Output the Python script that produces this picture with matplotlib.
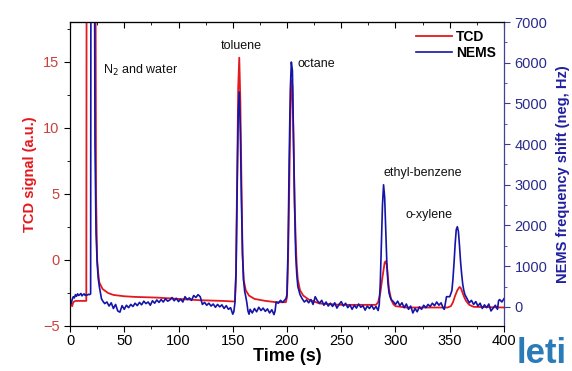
import numpy as np
import matplotlib.pyplot as plt
from matplotlib.ticker import MultipleLocator

plt.rcParams['font.family'] = ['Liberation Sans', 'DejaVu Sans']

# TCD trace (left axis, a.u.)
tcd_t = [0, 1, 2, 3, 5, 10, 15, 15.5, 23, 24, 25, 26, 27, 30, 35, 40, 50, 60, 80, 100,
         120, 140, 152, 153, 154, 155, 156, 157, 158, 159, 160, 162, 165, 170, 180, 190,
         199, 200, 201, 202, 203, 204, 205, 206, 207, 208, 209, 210, 212, 215, 220, 230,
         250, 282, 284, 286, 288, 290, 291, 292, 293, 294, 296, 298, 300, 310,
         348, 351, 353, 355, 357, 359, 360, 361, 363, 365, 368, 372, 400]
tcd_v = [-3.0, -3.4, -3.5, -3.2, -3.1, -3.1, -3.1, 40, 40, 5, 0, -1.0, -1.7, -2.2, -2.5, -2.65, -2.75, -2.8, -2.85, -2.95,
         -3.05, -3.1, -3.15, -1, 6, 13, 15.3, 12, 6, 0.5, -1.5, -2.3, -2.7, -2.95, -3.1, -3.2,
         -3.2, -2.8, 0, 5, 10.5, 13.6, 13.2, 9, 4.5, 1.5, -0.5, -1.5, -2.3, -2.7, -3.0, -3.3,
         -3.4, -3.4, -3.2, -2.5, -1.3, -0.2, -0.1, -0.4, -1.3, -2.2, -3.0, -3.35, -3.5, -3.6,
         -3.6, -3.5, -3.2, -2.7, -2.3, -2.05, -2.1, -2.3, -2.75, -3.1, -3.4, -3.55, -3.6]

# NEMS trace (right axis, Hz)
nems_t = [0, 1, 2, 3, 4, 5, 6, 7, 8, 9, 10, 11, 12, 13, 14, 15, 16, 17, 18, 19,
          19.5, 22, 23, 24, 25, 26, 27, 28, 29,
          30, 32, 34, 36, 38, 40, 42, 44, 46, 48, 50, 52, 54, 56, 58, 60, 62, 64, 66, 68,
          70, 72, 74, 76, 78, 80, 82, 84, 86, 88, 90, 92, 94, 96, 98, 100, 102, 104, 106, 108,
          110, 112, 114, 116, 118, 120, 122, 124, 126, 128, 130, 132, 134, 136, 138, 140,
          142, 144, 146, 148, 150, 151,
          152, 153, 154, 155, 156, 157, 158, 159, 160, 161,
          162, 163, 164, 165, 166, 168, 170, 172, 174, 176, 178, 180, 182, 184, 186, 188,
          189, 190, 192, 194, 196, 198, 199,
          200, 201, 202, 203, 204, 205, 206, 207, 208, 209, 210, 212,
          214, 216, 218, 220, 222, 224, 226, 228, 230, 232, 234, 236, 238, 240, 242, 244,
          246, 248, 250, 252, 254, 256, 258, 260, 262, 264, 266, 268, 270, 272, 274, 276,
          278, 280, 282, 284,
          285, 286, 287, 288, 289, 290, 291, 292, 293, 294, 295,
          296, 298, 300, 302, 304, 306, 308, 310, 312, 314, 316, 318, 320, 322, 324, 326,
          328, 330, 332, 334, 336, 338, 340, 342, 344, 345,
          346, 347, 350, 352, 353, 354, 355, 356, 357, 358, 359, 360, 361, 362, 363, 364,
          366, 368, 370, 372, 374, 376, 378, 380, 382, 384, 386, 388, 390, 392, 394, 395,
          396, 398, 400]
nems_v = [150, 80, 180, 250, 220, 300, 260, 320, 280, 300, 330, 270, 300, 320, 280, 300, 290, 310, 300, 320,
          15000, 15000, 4000, 1800, 1100, 700, 500, 350, 200,
          150, 80, 120, 20, 100, -40, 60, -100, -130, 30, -60, 40, -20, 60, 10, 90, 30, 110, 50, 140,
          80, 120, 40, 150, 90, 170, 110, 180, 120, 200, 140, 170, 230, 150, 210, 130, 190, 120, 250, 180,
          220, 160, 280, 230, 300, 250, 60, 110, 40, 90, 20, 70, -10, 60, 0, 50,
          -40, 30, -60, -20, -180, -120,
          100, 800, 2800, 4700, 5280, 4300, 2600, 1300, 650, 380,
          250, 100, -100, -180, -60, -150, -40, -120, -10, -90, -30, -110, -50, -150, -70, -190,
          -100, 120, 90, 160, 110, 170, 200,
          300, 1500, 3600, 5300, 6016, 5800, 4200, 2500, 1300, 800, 500, 300,
          200, 120, 170, 100, 180, 60, 250, 150, 90, 160, 40, 120, 20, 90, 10, 100,
          -30, 60, 130, 20, 90, -20, 50, -60, 40, -30, 70, -10, 30, -80, 20, -40,
          40, -60, 10, -90,
          50, 600, 1600, 2500, 3000, 2700, 1900, 1100, 600, 350, 250,
          180, 130, 60, 140, 30, 100, -20, 70, -60, 20, -150, -40, -120, 0, -60, 40,
          -20, 60, 10, 90, 30, 120, 40, 100, -30, -60,
          100, 250, 250, 400, 700, 1100, 1550, 1900, 1970, 1850, 1500, 1100, 800, 550, 400, 300,
          200, 100, 160, 60, 130, 20, 90, -40, 50, -20, 70, -100, -30, 40, -60, 150,
          180, 120, 200]

peak_names = ['N$_2$ and water', 'toluene', 'octane', 'ethyl-benzene', 'o-xylene']
peak_pos = [(30, 14.3), (158, 16.2), (210, 14.8), (288.5, 6.6), (309, 3.4)]
peak_ha = ['left', 'center', 'left', 'left', 'left']

red = '#e3191e'
blue = '#1414a8'

fig = plt.figure(figsize=(5.72, 3.71), dpi=100)
ax = fig.add_axes([0.1224, 0.1213, 0.7587, 0.8194])
ax2 = ax.twinx()

l1, = ax.plot(tcd_t, tcd_v, color=red, lw=1.3, label='TCD')
l2, = ax2.plot(nems_t, nems_v, color=blue, lw=1.2, label='NEMS')

ax.set_xlim(0, 400)
ax.set_ylim(-5, 18)
ax2.set_ylim(-470, 7000)

ax.xaxis.set_major_locator(MultipleLocator(50))
ax.xaxis.set_minor_locator(MultipleLocator(25))
ax.yaxis.set_major_locator(MultipleLocator(5))
ax.yaxis.set_minor_locator(MultipleLocator(2.5))
ax2.yaxis.set_major_locator(MultipleLocator(1000))
ax2.yaxis.set_minor_locator(MultipleLocator(500))

ax.tick_params(axis='x', which='both', direction='out', top=False, labelsize=10.5, pad=2)
ax.tick_params(axis='x', which='major', length=4)
ax.tick_params(axis='x', which='minor', length=2.5)
ax.tick_params(axis='y', which='both', direction='out', labelsize=10.5, labelcolor='#c9413c')
ax.tick_params(axis='y', which='major', length=4)
ax.tick_params(axis='y', which='minor', length=2.5)
ax2.tick_params(axis='y', which='both', direction='out', labelsize=10.5, labelcolor='#2b2b8c', color='#3a3a9a')
ax2.tick_params(axis='y', which='major', length=4)
ax2.tick_params(axis='y', which='minor', length=2.5)
ax2.spines['right'].set_color('#4040a0')

top = ax.secondary_xaxis('top')
top.xaxis.set_major_locator(MultipleLocator(50))
top.xaxis.set_minor_locator(MultipleLocator(25))
top.tick_params(which='both', direction='in', labeltop=False)
top.tick_params(which='major', length=4)
top.tick_params(which='minor', length=2.5)

ax.set_xlabel('Time (s)', fontsize=13, fontweight='bold', labelpad=0)
ax.set_ylabel('TCD signal (a.u.)', fontsize=10.5, fontweight='bold', color=red, labelpad=4)
ax2.set_ylabel('NEMS frequency shift (neg, Hz)', fontsize=10.5, fontweight='bold', color='#2020a0', labelpad=6)

for name, (x, y), ha in zip(peak_names, peak_pos, peak_ha):
    ax.text(x, y, name, fontsize=9, ha=ha, va='center', color='#111111')

leg = ax2.legend([l1, l2], ['TCD', 'NEMS'], loc='upper right', frameon=False,
                 handlelength=2.6, handletextpad=0.3, labelspacing=0.1,
                 borderaxespad=0.2, prop={'weight': 'bold', 'size': 10})

fig.text(0.99, 0.092, 'leti', fontsize=25, fontweight='bold', color='#2a7bb8',
         ha='right', va='top')

fig.savefig('out.png', dpi=100)
